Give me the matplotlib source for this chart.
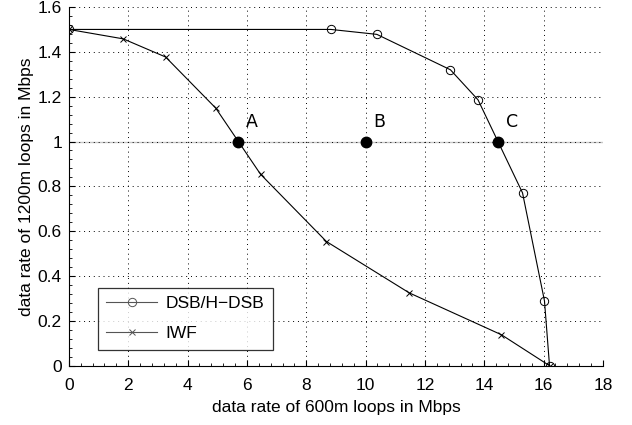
import matplotlib
matplotlib.use("Agg")
import matplotlib.pyplot as plt
from matplotlib.ticker import AutoMinorLocator, MultipleLocator

plt.rcParams['font.family'] = ['Liberation Sans', 'DejaVu Sans']

# DSB/H-DSB rate region
dsb_x = [0, 8.83, 10.38, 12.86, 13.79, 15.29, 16.03, 16.2]
dsb_y = [1.5, 1.5, 1.478, 1.32, 1.186, 0.771, 0.289, 0]

# IWF rate region
iwf_x = [0, 1.83, 3.26, 4.95, 6.46, 8.68, 11.47, 14.58, 16.2]
iwf_y = [1.5, 1.458, 1.377, 1.149, 0.854, 0.554, 0.325, 0.138, 0]

# operating points
pt_labels = ['A', 'B', 'C']
pt_x = [5.7, 10.0, 14.47]
pt_y = [1.0, 1.0, 1.0]

fig = plt.figure(figsize=(6.32, 4.25), dpi=100)
ax = fig.add_axes([0.109, 0.1395, 0.845, 0.844])

ax.axhline(1.0, color='#c8c8c8', lw=1.0, zorder=1)
ax.plot(dsb_x, dsb_y, color='black', lw=0.8, marker='o', ms=6,
        mfc='none', mew=0.7, label='DSB/H\u2212DSB', zorder=3)
ax.plot(iwf_x, iwf_y, color='black', lw=0.8, marker='x', ms=4.5,
        mew=0.7, label='IWF', zorder=3)
ax.plot(pt_x, pt_y, linestyle='none', marker='o', ms=7.5, color='black', zorder=4)
for lab, x, y in zip(pt_labels, pt_x, pt_y):
    ax.text(x + 0.25, y + 0.045, lab, fontsize=12.5, family='DejaVu Sans',
            ha='left', va='bottom')

ax.set_xlim(0, 18)
ax.set_ylim(0, 1.6)
ax.xaxis.set_major_locator(MultipleLocator(2))
ax.xaxis.set_minor_locator(AutoMinorLocator(5))
ax.set_yticks([0, 0.2, 0.4, 0.6, 0.8, 1, 1.2, 1.4, 1.6])
ax.set_yticklabels(['0', '0.2', '0.4', '0.6', '0.8', '1', '1.2', '1.4', '1.6'])
ax.yaxis.set_minor_locator(AutoMinorLocator(5))
ax.tick_params(which='both', direction='in', labelsize=12.5, top=False, right=False)
ax.tick_params(which='major', length=4)
ax.tick_params(which='minor', length=2)
ax.tick_params(axis='x', which='major', pad=9)
ax.tick_params(axis='y', which='major', pad=5)
ax.grid(True, which='major', linestyle=(0, (1, 4)), color='black', lw=0.7)
ax.spines['top'].set_visible(False)
ax.spines['right'].set_visible(False)

ax.set_xlabel('data rate of 600m loops in Mbps', fontsize=12.5, labelpad=5)
ax.set_ylabel('data rate of 1200m loops in Mbps', fontsize=12.5, labelpad=3)

leg = ax.legend(loc='lower left', bbox_to_anchor=(0.054, 0.044), fontsize=12.5,
                handlelength=2.9, frameon=True, fancybox=False,
                edgecolor='black', borderpad=0.5, labelspacing=0.85,
                handletextpad=0.5, borderaxespad=0)
leg.get_frame().set_linewidth(0.9)
for line in leg.get_lines():
    line.set_color('#555555')

fig.savefig('out.png', dpi=100)
